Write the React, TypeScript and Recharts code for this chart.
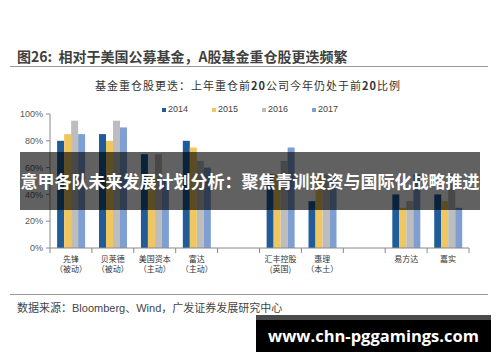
import React from 'react';
import { BarChart, Bar, XAxis, YAxis, Legend } from 'recharts';

const categories = ['先锋', '贝莱德', '美国资本', '富达', '', '汇丰控股', '惠理', '', '易方达', '嘉实'];
const subLabels = ['（被动）', '（被动）', '（主动）', '（主动）', '', '(英国)', '（本土）', '', '', ''];
const years = ['2014', '2015', '2016', '2017'];
const s2014 = [80, 85, 70, 80, null, 55, 35, null, 40, 40];
const s2015 = [85, 80, 55, 75, null, 55, 55, null, 30, 35];
const s2016 = [95, 95, 70, 65, null, 65, 55, null, 35, 55];
const s2017 = [85, 90, 50, 60, null, 75, 55, null, 55, 30];
const yTicks = [0, 10, 20, 30, 40, 50, 60, 70, 80, 90, 100];
const colors = ['#1f5c99', '#f0c75e', '#bdbdbd', '#7f9fd2'];

const series = [s2014, s2015, s2016, s2017];
const data = categories.map((c, i) => {
  const row: any = { idx: i };
  years.forEach((y, k) => {
    row['y' + y] = series[k][i];
  });
  return row;
});

const CJK = '"Noto Sans CJK SC", "Noto Sans", sans-serif';
const LAT = '"Liberation Sans", Arial, sans-serif';

const XTick = (props: any) => {
  const { x, y, payload } = props;
  const off = payload && typeof payload.offset === 'number' && payload.offset > 0 ? payload.offset : 21;
  const i = payload.value;
  return (
    <g>
      <line x1={x - off} x2={x - off} y1={y - 5} y2={y} stroke="#888" />
      {i === categories.length - 1 && <line x1={x + off} x2={x + off} y1={y - 5} y2={y} stroke="#888" />}
      <text x={x} y={y} textAnchor="middle" fontSize={8} fill="#333" fontFamily={CJK}>
        <tspan x={x} dy={9}>{categories[i]}</tspan>
        <tspan x={x} dy={10}>{subLabels[i]}</tspan>
      </text>
    </g>
  );
};

const LegendContent = (props: any) => {
  const { payload } = props;
  return (
    <div style={{ display: 'flex', height: 11, alignItems: 'center' }}>
      {(payload || []).map((p: any) => (
        <div key={p.value} style={{ width: 50, display: 'flex', alignItems: 'center', fontSize: 9, fontFamily: LAT, color: '#444', lineHeight: '11px' }}>
          <span style={{ display: 'inline-block', width: 4, height: 4, background: p.color, marginRight: 2 }} />
          {p.value}
        </div>
      ))}
    </div>
  );
};

export default function App() {
  return (
    <div style={{ position: 'absolute', left: 0, top: 0, width: 500, height: 362, background: '#fff', overflow: 'hidden', fontFamily: CJK }}>
      <div style={{ position: 'absolute', left: 17, top: 47, lineHeight: '18px', fontSize: 14, fontWeight: 'bold', color: '#404040', whiteSpace: 'nowrap' }}>
        图26:&nbsp;&nbsp;相对于美国公募基金，A股基金重仓股更迭频繁
      </div>
      <div style={{ position: 'absolute', left: 10, top: 66, width: 478, height: 1, background: '#999' }} />
      <div style={{ position: 'absolute', left: 0, top: 78, width: 496, textAlign: 'center', lineHeight: '14px', fontSize: 11, letterSpacing: 1, color: '#333', whiteSpace: 'nowrap' }}>
        基金重仓股更迭：上年重仓前<b>20</b>公司今年仍处于前<b>20</b>比例
      </div>
      <div style={{ position: 'absolute', left: 0, top: 0 }}>
        <BarChart width={500} height={362} data={data} margin={{ top: 114, right: 31, bottom: 84, left: 10 }} barCategoryGap="17%" barGap={0}>
          <XAxis dataKey="idx" type="category" interval={0} height={30} tickSize={5} tickMargin={0} tickLine={false} axisLine={{ stroke: '#888' }} tick={<XTick />} />
          <YAxis type="number" domain={[0, 100]} ticks={yTicks} width={40} tickSize={4} tickMargin={3} tickFormatter={(v: number) => `${v}%`} axisLine={{ stroke: '#888' }} tickLine={{ stroke: '#888' }} tick={{ fontSize: 9, fill: '#595959', fontFamily: LAT }} />
          <Legend layout="horizontal" verticalAlign="middle" align="center" wrapperStyle={{ position: 'absolute', top: 104, left: 162, width: 210 }} content={<LegendContent />} />
          {years.map((y, k) => (
            <Bar key={y} dataKey={'y' + y} name={y} fill={colors[k]} isAnimationActive={false} />
          ))}
        </BarChart>
      </div>
      <div style={{ position: 'absolute', left: 10, top: 294, width: 478, height: 1, background: '#999' }} />
      <div style={{ position: 'absolute', left: 17, top: 300, lineHeight: '14px', fontSize: 11, color: '#444', whiteSpace: 'nowrap' }}>
        数据来源：<span style={{ fontFamily: LAT }}>Bloomberg</span>、<span style={{ fontFamily: LAT }}>Wind</span>，广发证券发展研究中心
      </div>
      <div style={{ position: 'absolute', left: 20, top: 152, width: 460, height: 58, background: 'rgba(0,0,0,0.62)', color: '#fff', fontWeight: 'bold', fontSize: 17, lineHeight: '58px', textAlign: 'center', whiteSpace: 'nowrap', zIndex: 5 }}>
        意甲各队未来发展计划分析：聚焦青训投资与国际化战略推进
      </div>
      <div style={{ position: 'absolute', left: 256, top: 315, width: 235, height: 32, borderTop: '5px solid #4a4a4a', background: '#000', color: '#fff', fontWeight: 'bold', fontSize: 16.5, lineHeight: '32px', textAlign: 'center', fontFamily: '"Open Sans", sans-serif', whiteSpace: 'nowrap', zIndex: 5 }}>
        www.chn-pggamings.com
      </div>
    </div>
  );
}
